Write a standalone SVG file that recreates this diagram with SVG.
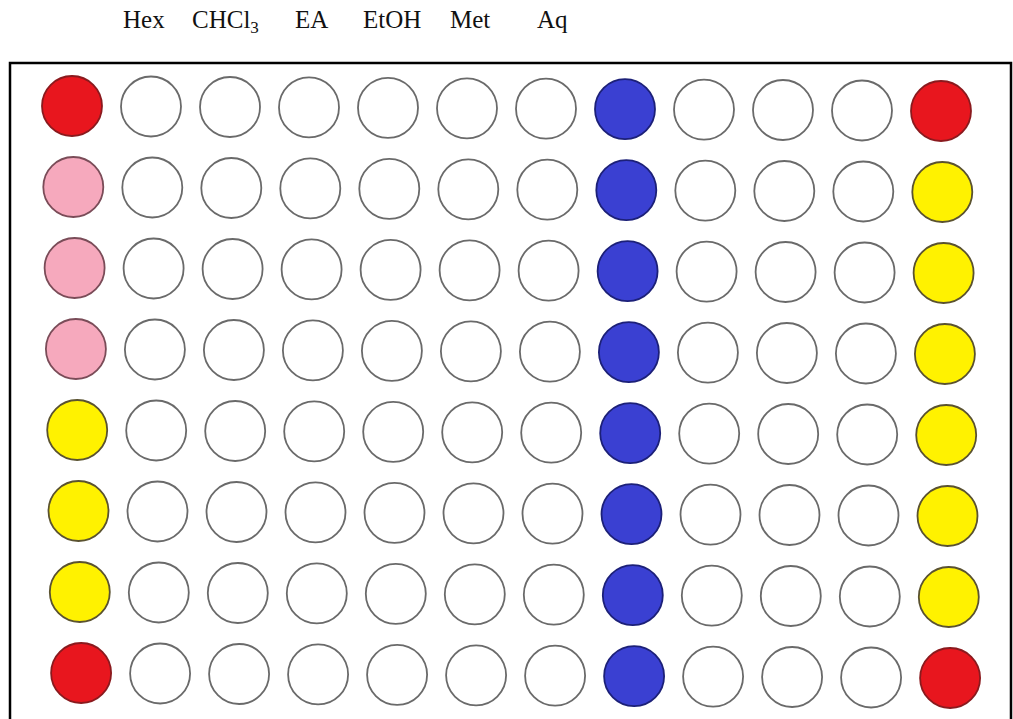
<svg xmlns="http://www.w3.org/2000/svg" width="1013" height="719" viewBox="0 0 1013 719">
<style>
.lbl{font-family:"Liberation Serif","Times New Roman",serif;font-size:25px;fill:#111}
.w{fill:#fff;stroke:#6a6a6a;stroke-width:1.8}
.r{fill:#e8161e;stroke:#8a1a1e;stroke-width:1.8}
.p{fill:#f6a9bd;stroke:#7a4c58;stroke-width:1.8}
.y{fill:#fff200;stroke:#5a5230;stroke-width:1.8}
.b{fill:#3a40d2;stroke:#1c2078;stroke-width:1.8}
</style>
<rect width="1013" height="719" fill="#fff"/>
<g id="labels">
<text class="lbl" x="123" y="28">Hex</text>
<text class="lbl" x="192" y="28">CHCl<tspan font-size="17" dy="5">3</tspan></text>
<text class="lbl" x="295" y="28">EA</text>
<text class="lbl" x="363" y="28">EtOH</text>
<text class="lbl" x="450" y="28">Met</text>
<text class="lbl" x="537" y="28">Aq</text>
</g>
<g id="plate">
<path d="M10,719 V63 H1011 V719" fill="none" stroke="#000" stroke-width="2.5"/>
</g>
<g id="row1">
<circle class="r" cx="72" cy="106" r="30"/><circle class="w" cx="151" cy="106.5" r="30"/><circle class="w" cx="230" cy="107" r="30"/><circle class="w" cx="309" cy="107.4" r="30"/><circle class="w" cx="388" cy="107.8" r="30"/><circle class="w" cx="467" cy="108.3" r="30"/><circle class="w" cx="546" cy="108.7" r="30"/><circle class="b" cx="625" cy="109.2" r="30"/><circle class="w" cx="704" cy="109.6" r="30"/><circle class="w" cx="783" cy="110" r="30"/><circle class="w" cx="862" cy="110.5" r="30"/><circle class="r" cx="941" cy="111" r="30"/>
</g>
<g id="row2">
<circle class="p" cx="73.3" cy="187" r="30"/><circle class="w" cx="152.3" cy="187.5" r="30"/><circle class="w" cx="231.3" cy="188" r="30"/><circle class="w" cx="310.3" cy="188.4" r="30"/><circle class="w" cx="389.3" cy="188.8" r="30"/><circle class="w" cx="468.3" cy="189.3" r="30"/><circle class="w" cx="547.3" cy="189.7" r="30"/><circle class="b" cx="626.3" cy="190.2" r="30"/><circle class="w" cx="705.3" cy="190.6" r="30"/><circle class="w" cx="784.3" cy="191" r="30"/><circle class="w" cx="863.3" cy="191.5" r="30"/><circle class="y" cx="942.3" cy="192" r="30"/>
</g>
<g id="row3">
<circle class="p" cx="74.6" cy="268" r="30"/><circle class="w" cx="153.6" cy="268.5" r="30"/><circle class="w" cx="232.6" cy="269" r="30"/><circle class="w" cx="311.6" cy="269.4" r="30"/><circle class="w" cx="390.6" cy="269.8" r="30"/><circle class="w" cx="469.6" cy="270.3" r="30"/><circle class="w" cx="548.6" cy="270.7" r="30"/><circle class="b" cx="627.6" cy="271.2" r="30"/><circle class="w" cx="706.6" cy="271.6" r="30"/><circle class="w" cx="785.6" cy="272" r="30"/><circle class="w" cx="864.6" cy="272.5" r="30"/><circle class="y" cx="943.6" cy="273" r="30"/>
</g>
<g id="row4">
<circle class="p" cx="75.9" cy="349" r="30"/><circle class="w" cx="154.9" cy="349.5" r="30"/><circle class="w" cx="233.9" cy="350" r="30"/><circle class="w" cx="312.9" cy="350.4" r="30"/><circle class="w" cx="391.9" cy="350.8" r="30"/><circle class="w" cx="470.9" cy="351.3" r="30"/><circle class="w" cx="549.9" cy="351.7" r="30"/><circle class="b" cx="628.9" cy="352.2" r="30"/><circle class="w" cx="707.9" cy="352.6" r="30"/><circle class="w" cx="786.9" cy="353" r="30"/><circle class="w" cx="865.9" cy="353.5" r="30"/><circle class="y" cx="944.9" cy="354" r="30"/>
</g>
<g id="row5">
<circle class="y" cx="77.2" cy="430" r="30"/><circle class="w" cx="156.2" cy="430.5" r="30"/><circle class="w" cx="235.2" cy="431" r="30"/><circle class="w" cx="314.2" cy="431.4" r="30"/><circle class="w" cx="393.2" cy="431.8" r="30"/><circle class="w" cx="472.2" cy="432.3" r="30"/><circle class="w" cx="551.2" cy="432.7" r="30"/><circle class="b" cx="630.2" cy="433.2" r="30"/><circle class="w" cx="709.2" cy="433.6" r="30"/><circle class="w" cx="788.2" cy="434" r="30"/><circle class="w" cx="867.2" cy="434.5" r="30"/><circle class="y" cx="946.2" cy="435" r="30"/>
</g>
<g id="row6">
<circle class="y" cx="78.5" cy="511" r="30"/><circle class="w" cx="157.5" cy="511.5" r="30"/><circle class="w" cx="236.5" cy="512" r="30"/><circle class="w" cx="315.5" cy="512.4" r="30"/><circle class="w" cx="394.5" cy="512.8" r="30"/><circle class="w" cx="473.5" cy="513.3" r="30"/><circle class="w" cx="552.5" cy="513.7" r="30"/><circle class="b" cx="631.5" cy="514.2" r="30"/><circle class="w" cx="710.5" cy="514.6" r="30"/><circle class="w" cx="789.5" cy="515" r="30"/><circle class="w" cx="868.5" cy="515.5" r="30"/><circle class="y" cx="947.5" cy="516" r="30"/>
</g>
<g id="row7">
<circle class="y" cx="79.8" cy="592" r="30"/><circle class="w" cx="158.8" cy="592.5" r="30"/><circle class="w" cx="237.8" cy="593" r="30"/><circle class="w" cx="316.8" cy="593.4" r="30"/><circle class="w" cx="395.8" cy="593.8" r="30"/><circle class="w" cx="474.8" cy="594.3" r="30"/><circle class="w" cx="553.8" cy="594.7" r="30"/><circle class="b" cx="632.8" cy="595.2" r="30"/><circle class="w" cx="711.8" cy="595.6" r="30"/><circle class="w" cx="790.8" cy="596" r="30"/><circle class="w" cx="869.8" cy="596.5" r="30"/><circle class="y" cx="948.8" cy="597" r="30"/>
</g>
<g id="row8">
<circle class="r" cx="81.1" cy="673" r="30"/><circle class="w" cx="160.1" cy="673.5" r="30"/><circle class="w" cx="239.1" cy="674" r="30"/><circle class="w" cx="318.1" cy="674.4" r="30"/><circle class="w" cx="397.1" cy="674.8" r="30"/><circle class="w" cx="476.1" cy="675.3" r="30"/><circle class="w" cx="555.1" cy="675.7" r="30"/><circle class="b" cx="634.1" cy="676.2" r="30"/><circle class="w" cx="713.1" cy="676.6" r="30"/><circle class="w" cx="792.1" cy="677" r="30"/><circle class="w" cx="871.1" cy="677.5" r="30"/><circle class="r" cx="950.1" cy="678" r="30"/>
</g>
<g id="connectors"/>
</svg>
